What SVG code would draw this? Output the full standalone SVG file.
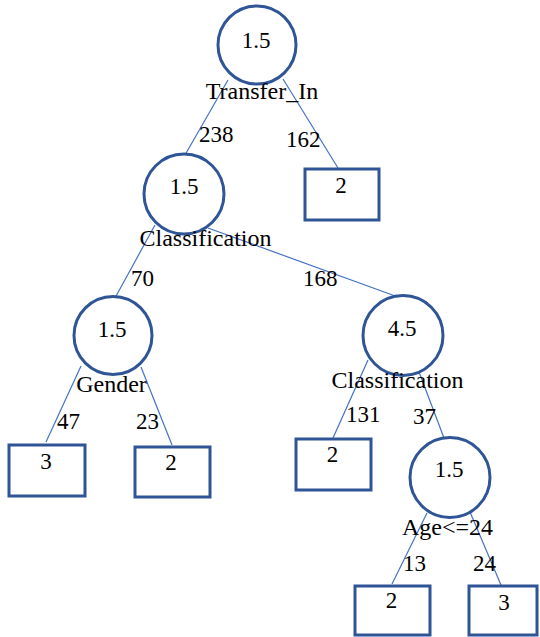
<svg xmlns="http://www.w3.org/2000/svg" width="540" height="637" viewBox="0 0 540 637">
<style>
.n{fill:none;stroke:#2F5597;stroke-width:3}
.e{stroke:#4472C4;stroke-width:1.2;fill:none}
text{font-family:"Liberation Serif","Times New Roman",serif;font-size:23px;fill:#000}
.c{text-anchor:middle}
.l{font-size:24px}
</style>
<rect width="540" height="637" fill="#fff"/>
<g id="connectors">
<line class="e" x1="228" y1="80" x2="185" y2="155"/>
<line class="e" x1="283" y1="79" x2="338" y2="168"/>
<line class="e" x1="155" y1="225" x2="115" y2="298"/>
<line class="e" x1="208" y1="228" x2="398" y2="297"/>
<line class="e" x1="81" y1="366" x2="46" y2="442"/>
<line class="e" x1="141" y1="367" x2="172" y2="445"/>
<line class="e" x1="368" y1="360" x2="333" y2="438"/>
<line class="e" x1="419" y1="372" x2="444" y2="438"/>
<line class="e" x1="427" y1="513" x2="392" y2="584"/>
<line class="e" x1="470" y1="512" x2="501" y2="585"/>
</g>
<g id="root">
<circle class="n" cx="257" cy="45" r="39"/>
<text class="c" x="256" y="48">1.5</text>
<text class="c l" x="262" y="99">Transfer_In</text>
</g>
<g id="leaf-transfer">
<rect class="n" x="305" y="169" width="74" height="51"/>
<text class="c" x="341" y="193">2</text>
</g>
<g id="classification1">
<circle class="n" cx="184" cy="194" r="40"/>
<text class="c" x="184" y="194">1.5</text>
<text class="c l" x="205.5" y="246">Classification</text>
</g>
<g id="gender">
<circle class="n" cx="113" cy="335.5" r="39"/>
<text class="c" x="112" y="337">1.5</text>
<text class="c l" x="111.5" y="392">Gender</text>
</g>
<g id="leaf-gender-3">
<rect class="n" x="9" y="445" width="76" height="51"/>
<text class="c" x="46" y="469">3</text>
</g>
<g id="leaf-gender-2">
<rect class="n" x="135" y="447" width="75" height="50"/>
<text class="c" x="171" y="470">2</text>
</g>
<g id="classification2">
<circle class="n" cx="403" cy="335.5" r="40"/>
<text class="c" x="402" y="336">4.5</text>
<text class="c l" x="397.5" y="388">Classification</text>
</g>
<g id="leaf-class2-2">
<rect class="n" x="296" y="439" width="75" height="51"/>
<text class="c" x="332.5" y="462">2</text>
</g>
<g id="age">
<circle class="n" cx="450" cy="477.5" r="40"/>
<text class="c" x="449" y="477">1.5</text>
<text class="c l" x="447.5" y="535">Age&lt;=24</text>
</g>
<g id="leaf-age-2">
<rect class="n" x="355" y="586" width="75" height="49"/>
<text class="c" x="391.5" y="608">2</text>
</g>
<g id="leaf-age-3">
<rect class="n" x="469" y="586" width="68" height="49"/>
<text class="c" x="504" y="610">3</text>
</g>
<g id="edge-labels">
<text x="199" y="142">238</text>
<text x="286" y="147">162</text>
<text x="131" y="286">70</text>
<text x="303" y="286">168</text>
<text x="57" y="429">47</text>
<text x="136" y="429">23</text>
<text x="346" y="422">131</text>
<text x="413" y="424">37</text>
<text x="403" y="571">13</text>
<text x="473" y="571">24</text>
</g>
</svg>
